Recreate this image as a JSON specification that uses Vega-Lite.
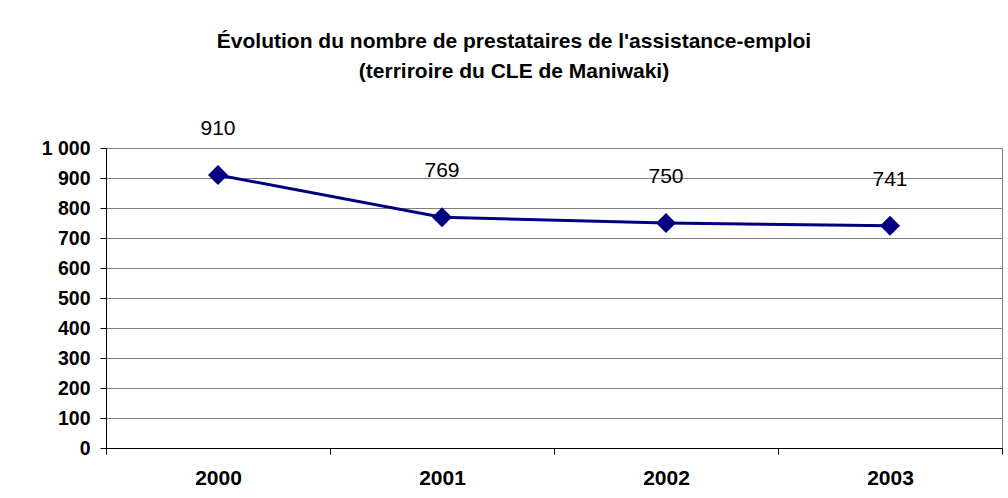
{
  "$schema": "https://vega.github.io/schema/vega-lite/v6.json",
  "autosize": "none",
  "width": 896,
  "height": 300,
  "padding": {"left": 106, "top": 148, "right": 6, "bottom": 50},
  "background": "white",
  "title": {
    "text": ["Évolution du nombre de prestataires de l'assistance-emploi", "(terriroire du CLE de Maniwaki)"],
    "font": "Liberation Sans",
    "fontSize": 21,
    "fontWeight": "bold",
    "lineHeight": 30,
    "anchor": "middle",
    "frame": "group",
    "dx": -40,
    "offset": 36,
    "color": "black"
  },
  "config": {
    "view": {"stroke": "#808080", "strokeWidth": 1},
    "axis": {"labelFont": "Liberation Sans", "labelColor": "black", "domainColor": "black", "tickColor": "black", "titleFont": "Liberation Sans"}
  },
  "data": {
    "values": [
      {"annee": "2000", "prestataires": 910},
      {"annee": "2001", "prestataires": 769},
      {"annee": "2002", "prestataires": 750},
      {"annee": "2003", "prestataires": 741}
    ]
  },
  "encoding": {
    "x": {
      "field": "annee",
      "type": "ordinal",
      "sort": null,
      "scale": {"type": "band", "paddingInner": 0, "paddingOuter": 0},
      "axis": {
        "title": null,
        "labelAngle": 0,
        "labelFontSize": 21,
        "labelFontWeight": "bold",
        "labelPadding": 13,
        "tickBand": "extent",
        "tickSize": 6,
        "domainWidth": 1,
        "grid": false
      }
    },
    "y": {
      "field": "prestataires",
      "type": "quantitative",
      "scale": {"domain": [0, 1000], "nice": false},
      "axis": {
        "title": null,
        "values": [0, 100, 200, 300, 400, 500, 600, 700, 800, 900, 1000],
        "labelExpr": "replace(format(datum.value, ','), ',', ' ')",
        "labelFontSize": 19.5,
        "labelFontWeight": "bold",
        "labelPadding": 10,
        "tickSize": 6,
        "grid": true,
        "gridColor": "#808080",
        "gridWidth": 1,
        "domainWidth": 1
      }
    }
  },
  "layer": [
    {
      "mark": {"type": "line", "color": "#000080", "strokeWidth": 3}
    },
    {
      "mark": {"type": "point", "shape": "diamond", "filled": true, "color": "#000080", "size": 400, "opacity": 1}
    },
    {
      "mark": {"type": "text", "dy": -46, "font": "Liberation Sans", "fontSize": 21, "color": "black"},
      "encoding": {"text": {"field": "prestataires", "type": "quantitative"}}
    }
  ]
}
